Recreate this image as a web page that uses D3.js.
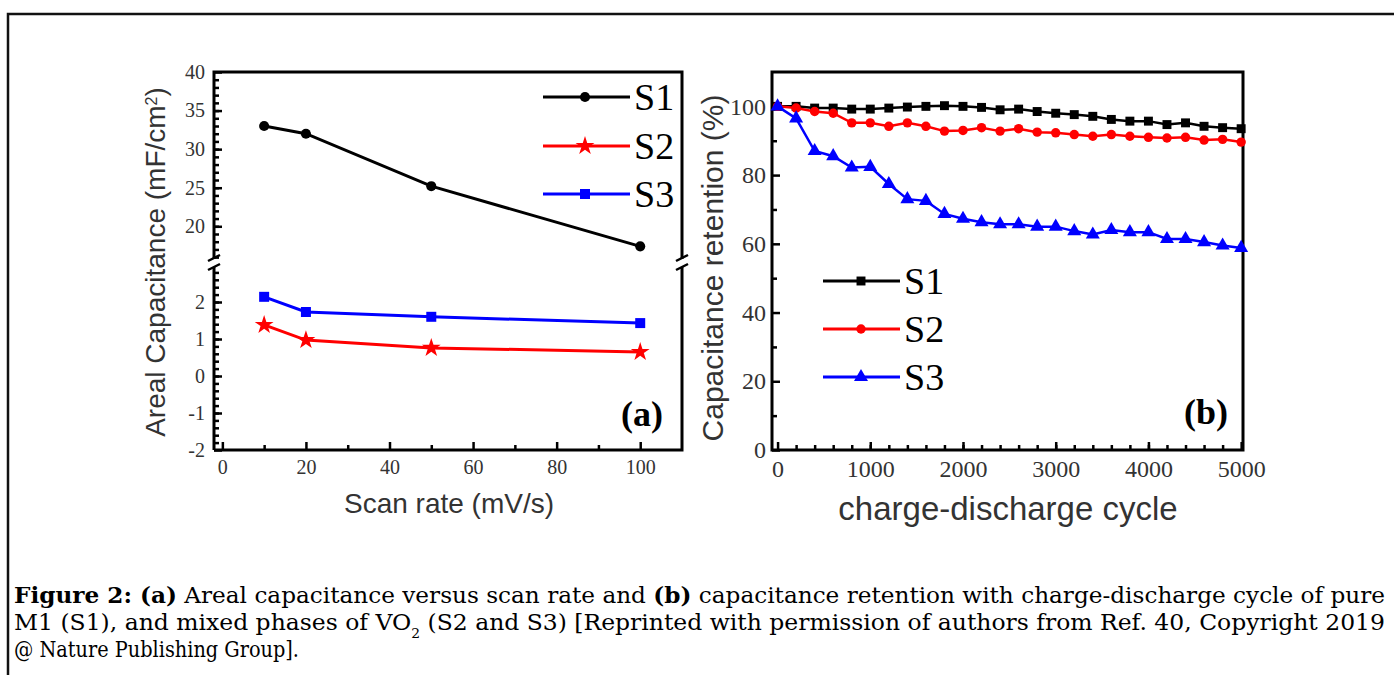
<!DOCTYPE html>
<html>

<head>
    <script src="https://d3js.org/d3.v7.min.js"></script>
    <meta charset="utf-8">
    <style>
        body { margin: 0; background: #fff; }
    </style>
</head>

<body>
    <script>
        // data
        var seriesNames = ["S1", "S2", "S3"];
        var seriesColors = ["#000000", "#ff0000", "#0000ff"];

        // panel (a): areal capacitance vs scan rate
        var scanRate = [10, 20, 50, 100];
        var arealS1 = [33.0, 32.0, 25.2, 17.4];
        var arealS2 = [1.38, 0.97, 0.76, 0.65];
        var arealS3 = [2.14, 1.73, 1.60, 1.43];
        var aXTicks = [0, 20, 40, 60, 80, 100];
        var aYTicksLow = [-2, -1, 0, 1, 2];
        var aYTicksHigh = [20, 25, 30, 35, 40];

        // panel (b): capacitance retention vs cycle
        var cycles = [0, 200, 400, 600, 800, 1000, 1200, 1400, 1600, 1800, 2000, 2200, 2400,
            2600, 2800, 3000, 3200, 3400, 3600, 3800, 4000, 4200, 4400, 4600, 4800, 5000];
        var retS1 = [100, 100, 99.5, 99.5, 99.2, 99.2, 99.5, 99.8, 100, 100.2, 100, 99.7, 99.0,
            99.2, 98.5, 98.0, 97.6, 97.1, 96.2, 95.7, 95.7, 94.7, 95.2, 94.2, 93.8, 93.5];
        var retS2 = [100, 99.5, 98.5, 98.0, 95.2, 95.2, 94.2, 95.2, 94.2, 92.8, 93.0, 93.8, 92.8,
            93.5, 92.5, 92.3, 91.8, 91.3, 91.8, 91.3, 91.0, 90.8, 91.0, 90.2, 90.4, 89.6];
        var retS3 = [100, 96.5, 87.0, 85.5, 82.2, 82.4, 77.4, 73.0, 72.5, 68.7, 67.3, 66.3, 65.7,
            65.7, 65.0, 65.0, 63.7, 62.7, 64.0, 63.4, 63.4, 61.4, 61.4, 60.5, 59.5, 58.8];
        var bXTicks = [0, 1000, 2000, 3000, 4000, 5000];
        var bYTicks = [0, 20, 40, 60, 80, 100];

        var width = 1394;
        var height = 675;
        var serif = "'Liberation Serif', 'Times New Roman', serif";
        var sans = "'Liberation Sans', Arial, sans-serif";
        var plain = function (d) { return String(d); };

        var svg = d3.select("body")
            .append("svg")
            .attr("width", width)
            .attr("height", height);

        svg.append("rect").attr("width", width).attr("height", height).attr("fill", "#fff");

        // outer frame (top + left only visible)
        svg.append("path")
            .attr("d", "M8," + height + "V14H" + width)
            .attr("fill", "none")
            .attr("stroke", "#111")
            .attr("stroke-width", 2.5);

        function styleAxis(g, fs) {
            g.select(".domain").remove();
            g.selectAll(".tick line").attr("stroke", "#000").attr("stroke-width", 2.5);
            g.selectAll(".tick text")
                .attr("fill", "#333")
                .style("font-family", serif)
                .style("font-size", fs + "px");
        }

        function symbolFor(type, size) {
            return d3.symbol().type(type).size(size)();
        }

        // ---------------- panel (a) ----------------
        var xA = d3.scaleLinear().domain([-2, 110]).range([214, 682]);
        var yALow = d3.scaleLinear().domain([-2, 3]).range([450, 265]);
        var yAHigh = d3.scaleLinear().domain([15.5, 40]).range([261, 72]);
        function yA(v) { return v > 10 ? yAHigh(v) : yALow(v); }

        var gA = svg.append("g");

        // x axis
        gA.append("g")
            .attr("transform", "translate(0,450)")
            .call(d3.axisBottom(xA).tickValues(d3.range(10, 101, 20)).tickSize(-5).tickFormat(""))
            .call(styleAxis, 20);
        gA.append("g")
            .attr("transform", "translate(0,450)")
            .call(d3.axisBottom(xA).tickValues(aXTicks).tickSize(-8).tickPadding(10).tickFormat(plain))
            .call(styleAxis, 20);

        // y axis, lower part
        gA.append("g")
            .attr("transform", "translate(214,0)")
            .call(d3.axisLeft(yALow).tickValues(d3.range(-1.8, 2.81, 0.2)).tickSize(-5).tickFormat(""))
            .call(styleAxis, 20);
        gA.append("g")
            .attr("transform", "translate(214,0)")
            .call(d3.axisLeft(yALow).tickValues(aYTicksLow).tickSize(-8).tickPadding(9).tickFormat(plain))
            .call(styleAxis, 20);

        // y axis, upper part
        gA.append("g")
            .attr("transform", "translate(214,0)")
            .call(d3.axisLeft(yAHigh).tickValues(d3.range(16, 40, 1)).tickSize(-5).tickFormat(""))
            .call(styleAxis, 20);
        gA.append("g")
            .attr("transform", "translate(214,0)")
            .call(d3.axisLeft(yAHigh).tickValues(aYTicksHigh).tickSize(-8).tickPadding(9).tickFormat(plain))
            .call(styleAxis, 20);

        // frame with broken side axes
        var brkTop = 259, brkBot = 267;
        gA.append("path")
            .attr("d", "M214,450H682V" + brkBot + "M682," + brkTop + "V72H214V" + brkTop + "M214," + brkBot + "V450")
            .attr("fill", "none")
            .attr("stroke", "#000")
            .attr("stroke-width", 3);

        [214, 682].forEach(function (x) {
            gA.append("line").attr("x1", x - 6).attr("y1", 261).attr("x2", x + 6).attr("y2", 255)
                .attr("stroke", "#000").attr("stroke-width", 2.5);
            gA.append("line").attr("x1", x - 6).attr("y1", 270).attr("x2", x + 6).attr("y2", 264)
                .attr("stroke", "#000").attr("stroke-width", 2.5);
        });

        var aSeries = [arealS1, arealS2, arealS3];
        var aSymbols = [[d3.symbolCircle, 80], [d3.symbolStar, 110], [d3.symbolSquare, 100]];
        var lineA = d3.line().x(function (d) { return xA(d[0]); }).y(function (d) { return yA(d[1]); });

        aSeries.forEach(function (vals, i) {
            var pts = scanRate.map(function (x, j) { return [x, vals[j]]; });
            gA.append("path")
                .attr("d", lineA(pts))
                .attr("fill", "none")
                .attr("stroke", seriesColors[i])
                .attr("stroke-width", 3);
            gA.selectAll(null)
                .data(pts)
                .enter()
                .append("path")
                .attr("d", symbolFor(aSymbols[i][0], aSymbols[i][1]))
                .attr("transform", function (d) { return "translate(" + xA(d[0]) + "," + yA(d[1]) + ")"; })
                .attr("fill", seriesColors[i]);
        });

        // legend (a)
        var legA = [97, 146, 194];
        seriesNames.forEach(function (name, i) {
            gA.append("line").attr("x1", 543).attr("x2", 630).attr("y1", legA[i]).attr("y2", legA[i])
                .attr("stroke", seriesColors[i]).attr("stroke-width", 3);
            gA.append("path")
                .attr("d", symbolFor(aSymbols[i][0], aSymbols[i][1]))
                .attr("transform", "translate(585," + legA[i] + ")")
                .attr("fill", seriesColors[i]);
            gA.append("text")
                .attr("x", 634).attr("y", legA[i]).attr("dy", "0.35em")
                .style("font-family", serif).style("font-size", "38px")
                .text(name);
        });

        gA.append("text")
            .attr("x", 663).attr("y", 426)
            .attr("text-anchor", "end")
            .style("font-family", serif).style("font-size", "36px").style("font-weight", "bold")
            .text("(a)");

        // axis titles (a)
        var yTitleA = gA.append("text")
            .attr("transform", "translate(155,262) rotate(-90)")
            .attr("text-anchor", "middle")
            .attr("dy", "0.35em")
            .attr("fill", "#333")
            .style("font-family", sans).style("font-size", "28px");
        yTitleA.append("tspan").text("Areal Capacitance (mF/cm");
        yTitleA.append("tspan").attr("baseline-shift", "super").style("font-size", "16px").text("2");
        yTitleA.append("tspan").text(")");

        gA.append("text")
            .attr("x", 449).attr("y", 503).attr("dy", "0.35em")
            .attr("text-anchor", "middle")
            .attr("fill", "#333")
            .style("font-family", sans).style("font-size", "28px")
            .text("Scan rate (mV/s)");

        // ---------------- panel (b) ----------------
        var xB = d3.scaleLinear().domain([-60, 5020]).range([772, 1243]);
        var yB = d3.scaleLinear().domain([0, 110]).range([450, 72]);
        var gB = svg.append("g");

        gB.append("g")
            .attr("transform", "translate(0,450)")
            .call(d3.axisBottom(xB).tickValues(d3.range(200, 5000, 200)).tickSize(-5).tickFormat(""))
            .call(styleAxis, 24);
        gB.append("g")
            .attr("transform", "translate(0,450)")
            .call(d3.axisBottom(xB).tickValues(bXTicks).tickSize(-8).tickPadding(10).tickFormat(plain))
            .call(styleAxis, 24);
        gB.append("g")
            .attr("transform", "translate(772,0)")
            .call(d3.axisLeft(yB).tickValues([10, 30, 50, 70, 90]).tickSize(-5).tickFormat(""))
            .call(styleAxis, 24);
        gB.append("g")
            .attr("transform", "translate(772,0)")
            .call(d3.axisLeft(yB).tickValues(bYTicks).tickSize(-8).tickPadding(6).tickFormat(plain))
            .call(styleAxis, 24);

        gB.append("rect")
            .attr("x", 772).attr("y", 72).attr("width", 1243 - 772).attr("height", 450 - 72)
            .attr("fill", "none")
            .attr("stroke", "#000")
            .attr("stroke-width", 3);

        var bSeries = [retS1, retS2, retS3];
        var bSymbols = [[d3.symbolSquare, 80], [d3.symbolCircle, 70], [d3.symbolTriangle, 85]];
        var lineB = d3.line().x(function (d) { return xB(d[0]); }).y(function (d) { return yB(d[1]); });

        bSeries.forEach(function (vals, i) {
            var pts = cycles.map(function (c, j) { return [c, vals[j]]; });
            gB.append("path")
                .attr("d", lineB(pts))
                .attr("fill", "none")
                .attr("stroke", seriesColors[i])
                .attr("stroke-width", 2.5);
            gB.selectAll(null)
                .data(pts)
                .enter()
                .append("path")
                .attr("d", symbolFor(bSymbols[i][0], bSymbols[i][1]))
                .attr("transform", function (d) { return "translate(" + xB(d[0]) + "," + yB(d[1]) + ")"; })
                .attr("fill", seriesColors[i]);
        });

        // legend (b)
        var legB = [281, 329, 377];
        seriesNames.forEach(function (name, i) {
            gB.append("line").attr("x1", 823).attr("x2", 900).attr("y1", legB[i]).attr("y2", legB[i])
                .attr("stroke", seriesColors[i]).attr("stroke-width", 3);
            gB.append("path")
                .attr("d", symbolFor(bSymbols[i][0], bSymbols[i][1]))
                .attr("transform", "translate(861," + legB[i] + ")")
                .attr("fill", seriesColors[i]);
            gB.append("text")
                .attr("x", 904).attr("y", legB[i]).attr("dy", "0.35em")
                .style("font-family", serif).style("font-size", "38px")
                .text(name);
        });

        gB.append("text")
            .attr("x", 1228).attr("y", 424)
            .attr("text-anchor", "end")
            .style("font-family", serif).style("font-size", "36px").style("font-weight", "bold")
            .text("(b)");

        gB.append("text")
            .attr("transform", "translate(712,268) rotate(-90)")
            .attr("text-anchor", "middle")
            .attr("dy", "0.35em")
            .attr("fill", "#333")
            .style("font-family", sans).style("font-size", "30px")
            .text("Capacitance retention (%)");

        gB.append("text")
            .attr("x", 1008).attr("y", 508).attr("dy", "0.35em")
            .attr("text-anchor", "middle")
            .attr("fill", "#333")
            .style("font-family", sans).style("font-size", "33px")
            .text("charge-discharge cycle");

        // ---------------- caption ----------------
        var capFont = "'DejaVu Serif', Georgia, serif";
        var cap = svg.append("g").attr("fill", "#000");

        var l1 = cap.append("text").attr("x", 14).attr("y", 603)
            .style("font-family", capFont).style("font-size", "22px")
            .attr("textLength", 1371).attr("lengthAdjust", "spacingAndGlyphs");
        l1.append("tspan").style("font-weight", "bold").text("Figure 2: (a)");
        l1.append("tspan").text(" Areal capacitance versus scan rate and ");
        l1.append("tspan").style("font-weight", "bold").text("(b)");
        l1.append("tspan").text(" capacitance retention with charge-discharge cycle of pure");

        var l2 = cap.append("text").attr("x", 14).attr("y", 630)
            .style("font-family", capFont).style("font-size", "22px")
            .attr("textLength", 1371).attr("lengthAdjust", "spacingAndGlyphs");
        l2.append("tspan").text("M1 (S1), and mixed phases of VO");
        l2.append("tspan").attr("baseline-shift", "sub").style("font-size", "13px").text("2");
        l2.append("tspan").text(" (S2 and S3) [Reprinted with permission of authors from Ref. 40, Copyright 2019");

        cap.append("text").attr("x", 14).attr("y", 657)
            .style("font-family", capFont).style("font-size", "22px")
            .attr("textLength", 285).attr("lengthAdjust", "spacingAndGlyphs")
            .text("@ Nature Publishing Group].");
    </script>
</body>

</html>
